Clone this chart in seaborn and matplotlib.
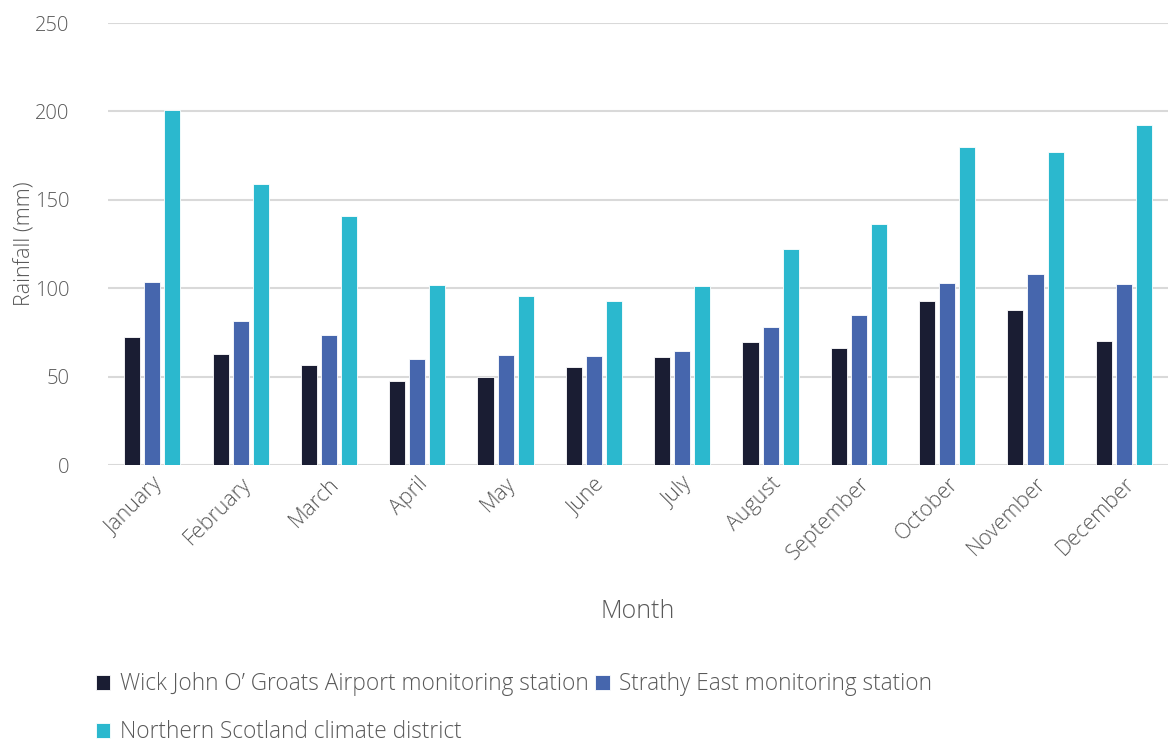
import matplotlib
matplotlib.use("Agg")
import matplotlib.pyplot as plt
import seaborn as sns
import pandas as pd

months = ["January", "February", "March", "April", "May", "June", "July",
          "August", "September", "October", "November", "December"]
series_names = ["Wick John O\u2019 Groats Airport monitoring station",
                "Strathy East monitoring station",
                "Northern Scotland climate district"]
wick = [72.3, 62.6, 56.6, 47.4, 49.8, 55.3, 61.3, 69.4, 66.0, 92.6, 87.5, 70.4]
strathy = [103.4, 81.3, 73.6, 59.8, 62.1, 61.9, 64.3, 77.9, 84.7, 103.2, 107.9, 102.5]
northern = [200.6, 159.2, 140.8, 101.9, 95.7, 92.6, 101.1, 122.1, 136.6, 180.0, 176.8, 192.6]
colors = ["#1a1d33", "#4666ad", "#2bb8ce"]

rows = []
for name, vals in zip(series_names, [wick, strathy, northern]):
    for m, v in zip(months, vals):
        rows.append({"Month": m, "Series": name, "Rainfall": v})
df = pd.DataFrame(rows)

sns.set_theme(style="white")
plt.rcParams["font.family"] = ["Open Sans", "DejaVu Sans"]

fig = plt.figure(figsize=(11.68, 7.43), dpi=100)
ax = fig.add_axes([0.0925, 0.374, 0.9075, 0.595])

sns.barplot(data=df, x="Month", y="Rainfall", hue="Series", order=months,
            hue_order=series_names, palette=colors, saturation=1, width=0.68, gap=0.2,
            edgecolor="white", linewidth=0.6, ax=ax, legend=True)

ax.set_ylim(0, 250)
ax.set_xlim(-0.5, 11.5)
ax.set_yticks([0, 50, 100, 150, 200, 250])
ax.yaxis.grid(True, color="#d9d9d9", linewidth=1.5)
ax.set_axisbelow(True)
for s in ax.spines.values():
    s.set_visible(False)
ax.tick_params(axis="both", length=0, colors="#595959")
ax.tick_params(axis="y", pad=28, labelsize=14.5)
ax.tick_params(axis="x", pad=6, labelsize=15.5)
for lab in ax.get_yticklabels():
    lab.set_fontweight("light")
for lab in ax.get_xticklabels():
    lab.set_rotation(45)
    lab.set_ha("right")
    lab.set_rotation_mode("anchor")
    lab.set_fontweight("light")

ax.set_xlabel("Month", fontsize=18, color="#595959", fontweight="light", labelpad=25)
ax.set_ylabel("Rainfall (mm)", fontsize=15.5, color="#595959", fontweight="light")
ax.yaxis.set_label_coords(-0.068, 0.5)

handles, labels = ax.get_legend_handles_labels()
ax.get_legend().remove()
order = [0, 2, 1]
leg = fig.legend([handles[i] for i in order], [labels[i] for i in order],
                 loc="upper left", bbox_to_anchor=(0.082, 0.095), ncol=2,
                 frameon=False, fontsize=16.3, handlelength=0.65, handleheight=0.65,
                 handletextpad=0.4, columnspacing=0.3, labelspacing=1.05,
                 borderaxespad=0, borderpad=0)
for t in leg.get_texts():
    t.set_color("#595959")
    t.set_fontweight("light")

fig.savefig("out.png", dpi=100)
